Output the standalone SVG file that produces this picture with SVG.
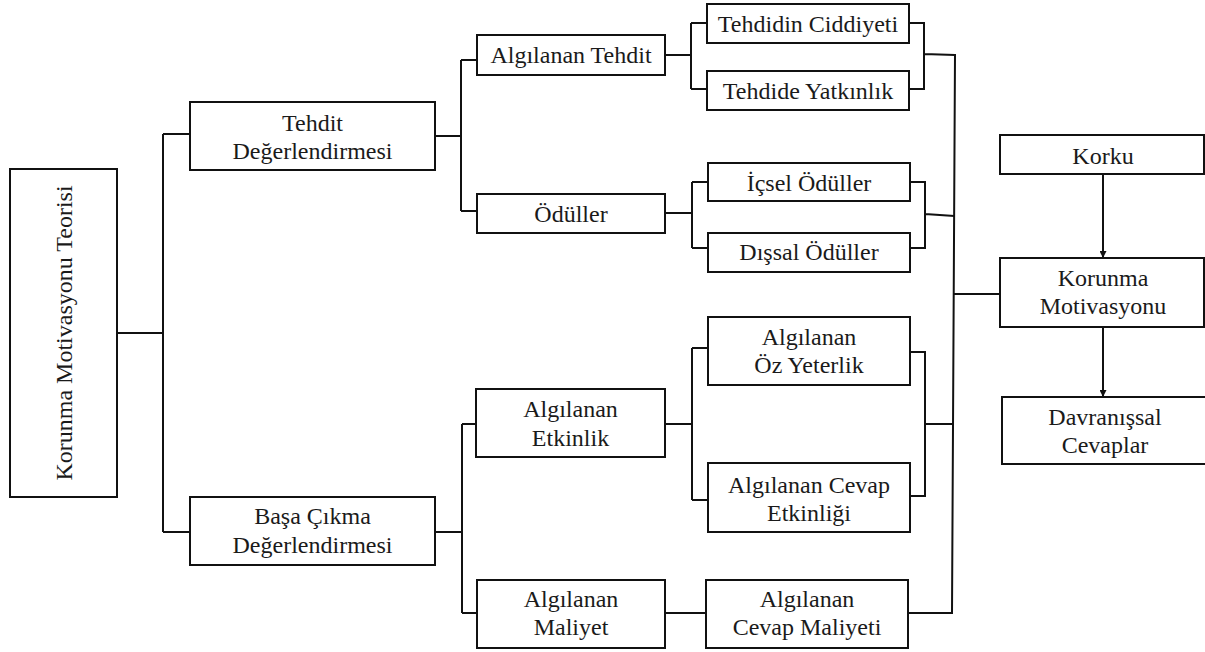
<svg xmlns="http://www.w3.org/2000/svg" width="1205" height="652" viewBox="0 0 1205 652">
<style>
rect{fill:#fff;stroke:#111;stroke-width:2}
text{font-family:"Liberation Serif","Times New Roman",serif;font-size:24px;fill:#1a1a1a;text-anchor:middle}
.c path{fill:none;stroke:#111;stroke-width:2}
</style>
<defs>
<marker id="ah" viewBox="0 0 10 10" refX="10" refY="5" markerWidth="3.5" markerHeight="3.5" orient="auto" markerUnits="strokeWidth"><path d="M0,0L10,5L0,10z" fill="#111"/></marker>
</defs>
<rect x="0" y="0" width="1205" height="652" style="stroke:none"/>
<g class="c" id="connectors">
<path d="M117,333H163M163,134V532M163,134H190M163,532H190"/>
<path d="M435,136H461M461,60V211M461,60H477M461,211H477"/>
<path d="M665,55H691M691,23V89M691,23H707M691,89H707"/>
<path d="M909,23H924V89H909M924,54L955,55"/>
<path d="M665,213H692M692,182V248M692,182H708M692,248H708"/>
<path d="M910,182H925V248H910M925,214L954.5,216"/>
<path d="M435,532H462M462,424V613M462,424H476M462,613H477"/>
<path d="M665,424H692M692,348V500M692,348H708M692,500H708"/>
<path d="M910,352H925V496H910M925,424H953.5"/>
<path d="M665,613H706M908,613H952"/>
<path d="M955,54L952,614M954.3,294H1001"/>
<path d="M1103,174V258" marker-end="url(#ah)"/>
<path d="M1103,327V397" marker-end="url(#ah)"/>
</g>
<g id="n-kmt"><rect x="10" y="169" width="107" height="328"/><text x="72" y="333" transform="rotate(-90 72 333)">Korunma Motivasyonu Teorisi</text></g>
<g id="n-td"><rect x="190" y="102" width="245" height="68"/><text x="312.5" y="131">Tehdit</text><text x="312.5" y="159">Değerlendirmesi</text></g>
<g id="n-bcd"><rect x="190" y="497" width="245" height="68"/><text x="312.5" y="524">Başa Çıkma</text><text x="312.5" y="553">Değerlendirmesi</text></g>
<g id="n-at"><rect x="477" y="35" width="188" height="40"/><text x="571" y="63">Algılanan Tehdit</text></g>
<g id="n-od"><rect x="477" y="194" width="188" height="39"/><text x="571" y="222">Ödüller</text></g>
<g id="n-tc"><rect x="707" y="4" width="202" height="39"/><text x="808" y="32">Tehdidin Ciddiyeti</text></g>
<g id="n-ty"><rect x="707" y="71" width="202" height="39"/><text x="808" y="99">Tehdide Yatkınlık</text></g>
<g id="n-io"><rect x="708" y="163" width="202" height="38"/><text x="809" y="191">İçsel Ödüller</text></g>
<g id="n-do"><rect x="708" y="233" width="202" height="39"/><text x="809" y="260">Dışsal Ödüller</text></g>
<g id="n-ae"><rect x="476" y="389" width="189" height="68"/><text x="570.5" y="417">Algılanan</text><text x="570.5" y="446">Etkinlik</text></g>
<g id="n-am"><rect x="477" y="580" width="188" height="68"/><text x="571" y="607">Algılanan</text><text x="571" y="635">Maliyet</text></g>
<g id="n-aoy"><rect x="708" y="317" width="202" height="68"/><text x="809" y="345">Algılanan</text><text x="809" y="373">Öz Yeterlik</text></g>
<g id="n-ace"><rect x="708" y="463" width="202" height="69"/><text x="809" y="493">Algılanan Cevap</text><text x="809" y="521">Etkinliği</text></g>
<g id="n-acm"><rect x="706" y="580" width="202" height="68"/><text x="807" y="607">Algılanan</text><text x="807" y="635">Cevap Maliyeti</text></g>
<g id="n-korku"><rect x="1000" y="135" width="204" height="39"/><text x="1103" y="164">Korku</text></g>
<g id="n-km"><rect x="1000" y="258" width="204" height="69"/><text x="1103" y="286">Korunma</text><text x="1103" y="314">Motivasyonu</text></g>
<g id="n-dc"><rect x="1002" y="397" width="206" height="67"/><text x="1105" y="425">Davranışsal</text><text x="1105" y="453">Cevaplar</text></g>
</svg>
